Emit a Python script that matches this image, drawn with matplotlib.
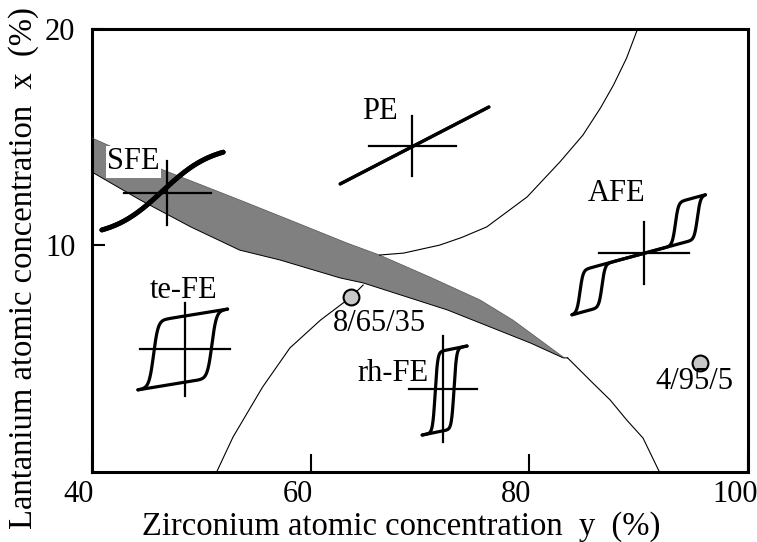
import numpy as np
import matplotlib
matplotlib.use("Agg")
import matplotlib.pyplot as plt
import matplotlib.transforms as mtransforms

plt.rcParams['font.family'] = ['Liberation Serif', 'DejaVu Serif']

# phase boundaries (Zr %, La %)
pe_afe_zr = [89.9, 88.9, 87.7, 86.5, 84.9, 82.8, 79.8, 76.1, 73.8, 71.8, 68.5, 66.3]
pe_afe_la = [20.0, 18.66, 17.41, 16.34, 15.09, 13.85, 12.23, 10.84, 10.35, 10.0, 9.63, 9.54]

te_rh_zr = [51.4, 52.9, 55.6, 58.1, 60.9, 63.7, 64.8]
te_rh_la = [-0.5, 1.12, 3.43, 5.24, 6.53, 7.6, 8.15]

rh_afe_zr = [83.5, 85.8, 87.4, 88.9, 90.4, 91.9]
rh_afe_la = [4.78, 3.62, 2.83, 1.91, 1.07, -0.5]

# grey SFE band
band_top_zr = [40.0, 46.5, 53.5, 58.1, 63.3, 66.3, 71.0, 75.5, 78.5, 83.1, 83.5]
band_top_la = [14.96, 13.48, 12.09, 11.16, 10.10, 9.54, 8.50, 7.46, 6.53, 4.82, 4.78]
band_bot_zr = [40.0, 44.4, 49.0, 53.5, 57.2, 62.7, 64.8, 72.5, 80.1, 83.1, 83.5]
band_bot_la = [13.38, 12.09, 10.85, 9.77, 9.31, 8.48, 8.25, 7.0, 5.47, 4.78, 4.78]

# compositions marked
samples = ['8/65/35', '4/95/5']
sample_zr = [63.7, 95.6]
sample_la = [7.6, 4.54]

# phase labels
phases = ['SFE', 'PE', 'AFE', 'te-FE', 'rh-FE']
phase_zr = [43.8, 66.3, 88.0, 48.4, 70.8]
phase_la = [13.85, 16.16, 12.41, 7.92, 4.08]

fig = plt.figure(figsize=(7.57, 5.42), dpi=100)
ax = fig.add_axes([92 / 757, 1 - 472 / 542, 656 / 757, 443 / 542])
ax.set_xlim(40, 100)
ax.set_ylim(-0.5, 20)

ax.fill(band_top_zr + band_bot_zr[::-1], band_top_la + band_bot_la[::-1],
        facecolor='#808080', edgecolor='none', zorder=2)
ax.plot(band_bot_zr, band_bot_la, color='black', lw=0.7, zorder=3)
ax.plot(band_top_zr, band_top_la, color='#555555', lw=0.5, zorder=3)

for xs, ys in [(pe_afe_zr, pe_afe_la), (te_rh_zr, te_rh_la), (rh_afe_zr, rh_afe_la)]:
    ax.plot(xs, ys, color='black', lw=0.8, zorder=3)


def cross(cx, cy, hx, hy):
    ax.plot([cx - hx, cx + hx], [cy, cy], color='black', lw=1.6, zorder=5)
    ax.plot([cx, cx], [cy - hy, cy + hy], color='black', lw=1.6, zorder=5)


def loop(cx, cy, hw, hh, up, down, lw=2.3):
    E = np.linspace(-1, 1, 300)
    ax.plot(cx + E * hw, cy + up(E) * hh, color='black', lw=lw, zorder=6,
            solid_capstyle='round')
    ax.plot(cx + E * hw, cy + down(E) * hh, color='black', lw=lw, zorder=6,
            solid_capstyle='round')


# SFE : slim S-curve
s_curve = lambda E: np.tanh(1.2 * E) / np.tanh(1.2)
loop(46.45, 12.5, 5.55, 1.8, s_curve, s_curve, lw=3.5)
cross(46.9, 12.41, 4.0, 1.48)

# PE : straight line
lin = lambda E: E
loop(69.5, 14.61, 6.8, 1.78, lin, lin, lw=2.3)
cross(69.3, 14.59, 4.0, 1.39)

# AFE : double loop
a, B, k, e1, e2 = 0.3, 0.35, 22, 0.55, 0.88
afe_up = lambda E: a * E + B * (np.tanh(k * (E + e1)) + np.tanh(k * (E - e2)))
afe_dn = lambda E: a * E + B * (np.tanh(k * (E - e1)) + np.tanh(k * (E + e2)))
loop(90.0, 9.55, 6.1, 2.78, afe_up, afe_dn)
cross(90.5, 9.63, 4.1, 1.43)

# te-FE : square loop
fe_up = lambda E: 0.18 * E + 0.82 * np.tanh(10 * (E - 0.65))
fe_dn = lambda E: 0.18 * E + 0.82 * np.tanh(10 * (E + 0.65))
loop(48.3, 5.17, 4.1, 1.87, fe_up, fe_dn)
cross(48.5, 5.19, 4.15, 2.15)

# rh-FE : narrow tall loop
rh_up = lambda E: 0.1 * E + 0.9 * np.tanh(9 * (E - 0.42))
rh_dn = lambda E: 0.1 * E + 0.9 * np.tanh(9 * (E + 0.42))
loop(72.25, 3.27, 2.05, 2.06, rh_up, rh_dn)
cross(72.1, 3.34, 3.15, 2.45)

ax.scatter(sample_zr, sample_la, s=130, facecolor='#c8c8c8', edgecolor='black',
           linewidth=1.5, zorder=7)
ax.text(66.3, 6.35, samples[0], fontsize=22, ha='center', va='center', zorder=8)
ax.text(95.1, 3.67, samples[1], fontsize=22, ha='center', va='center', zorder=8)

for name, zx, ly in zip(phases, phase_zr, phase_la):
    if name == 'SFE':
        ax.text(zx, ly, name, fontsize=22, ha='center', va='center', zorder=8,
                bbox=dict(facecolor='white', edgecolor='none', pad=1))
    elif name == 'rh-FE':
        ax.text(zx, ly, name, fontsize=22, ha='right', va='center', zorder=4)
    else:
        ax.text(zx, ly, name, fontsize=22, ha='center', va='center', zorder=8)

ax.set_xticks([40, 60, 80, 100])
ax.set_yticks([10, 20])
ax.tick_params(direction='in', labelsize=22, width=1.5)
ax.tick_params(axis='x', length=13, pad=6)
ax.tick_params(axis='y', length=9, pad=12)
shift = mtransforms.ScaledTranslation(-0.13, 0, fig.dpi_scale_trans)
for lab in ax.get_xticklabels():
    lab.set_transform(lab.get_transform() + shift)
for sp in ax.spines.values():
    sp.set_linewidth(2.2)

fig.text(401 / 757, 1 - 527 / 542, 'Zirconium atomic concentration  y  (%)',
         fontsize=23.5, ha='center', va='center')
fig.text(24 / 757, 1 - 268 / 542, 'Lantanium atomic concentration  x  (%)',
         fontsize=23.5, ha='center', va='center', rotation=90)

fig.savefig('out.png', dpi=100)
